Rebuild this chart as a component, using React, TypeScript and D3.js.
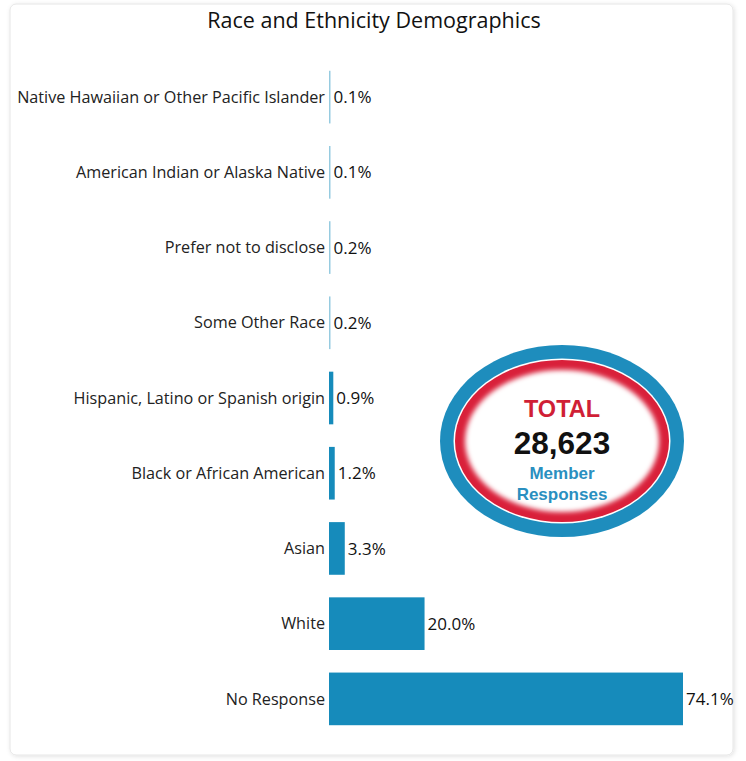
import React from "react";
import * as d3 from "d3";

const categories = [
  "Native Hawaiian or Other Pacific Islander",
  "American Indian or Alaska Native",
  "Prefer not to disclose",
  "Some Other Race",
  "Hispanic, Latino or Spanish origin",
  "Black or African American",
  "Asian",
  "White",
  "No Response",
];
const values = [0.1, 0.1, 0.2, 0.2, 0.9, 1.2, 3.3, 20.0, 74.1];
const title = "Race and Ethnicity Demographics";
const totalLabel = "TOTAL";
const totalValue = 28623;
const totalSub = ["Member", "Responses"];

const W = 746;
const H = 761;
const BAR = "#168bbb";
const FONT = "'Open Sans', 'Noto Sans', sans-serif";

export default function App() {
  const x = d3.scaleLinear().domain([0, 74.1]).range([329, 683]);
  const y = d3
    .scaleBand<string>()
    .domain(categories)
    .range([59.5, 736.5])
    .paddingInner(0.3)
    .paddingOuter(0.15);
  const cx = 562;
  const cy = 441;
  return (
    <svg
      width={W}
      height={H}
      style={{ position: "absolute", left: 0, top: 0 }}
      fontFamily={FONT}
    >
      <defs>
        <filter id="shadow" x="-5%" y="-5%" width="110%" height="110%">
          <feDropShadow dx="1" dy="1" stdDeviation="2" floodColor="#000" floodOpacity="0.12" />
        </filter>
        <filter id="blur" x="-10%" y="-10%" width="120%" height="120%">
          <feGaussianBlur stdDeviation="2.5" />
        </filter>
      </defs>
      <rect x={0} y={0} width={W} height={H} fill="#fff" />
      <rect
        x={10}
        y={4}
        width={723}
        height={751}
        rx={6}
        fill="#fff"
        stroke="#e6e6e6"
        filter="url(#shadow)"
      />
      <text
        x={374}
        y={28}
        textAnchor="middle"
        fontSize={21.5}
        fontWeight={500}
        fill="#111"
      >
        {title}
      </text>
      {categories.map((c, i) => {
        const v = values[i];
        const yy = y(c)!;
        const bw = y.bandwidth();
        const w = Math.max(1.5, x(v) - x(0));
        return (
          <g key={c}>
            <text
              x={325}
              y={yy + bw / 2}
              dy="0.35em"
              textAnchor="end"
              fontSize={16.2}
              fontWeight={500}
              fill="#222"
            >
              {c}
            </text>
            <rect
              x={x(0)}
              y={yy}
              width={w}
              height={bw}
              fill={BAR}
              opacity={v < 0.5 ? 0.45 : 1}
            />
            <text
              x={x(0) + w + 3}
              y={yy + bw / 2}
              dy="0.36em"
              fontSize={17}
              fontWeight={500}
              fill="#111"
            >
              {d3.format(".1f")(v) + "%"}
            </text>
          </g>
        );
      })}
      <g>
        <ellipse cx={cx} cy={cy} rx={122} ry={96} fill="#1e8dbd" />
        <ellipse cx={cx} cy={cy} rx={108.5} ry={82.5} fill="#fff" />
        <ellipse cx={cx} cy={cy} rx={107} ry={81} fill="#d9203a" />
        <ellipse
          cx={cx}
          cy={cy}
          rx={97}
          ry={71}
          fill="#fff"
          filter="url(#blur)"
        />
        <text
          x={cx}
          y={417}
          textAnchor="middle"
          fontFamily="'Liberation Sans', Arial, sans-serif"
          fontWeight="bold"
          fontSize={23.5}
          fill="#d01f36"
        >
          {totalLabel}
        </text>
        <text
          x={cx}
          y={454}
          textAnchor="middle"
          fontFamily="'Liberation Sans', Arial, sans-serif"
          fontWeight="bold"
          fontSize={31.5}
          fill="#111"
        >
          {d3.format(",")(totalValue)}
        </text>
        {totalSub.map((s, i) => (
          <text
            key={s}
            x={cx}
            y={479 + i * 21}
            textAnchor="middle"
            fontFamily="'Liberation Sans', Arial, sans-serif"
            fontWeight="bold"
            fontSize={17}
            fill="#2a8fc0"
          >
            {s}
          </text>
        ))}
      </g>
    </svg>
  );
}
